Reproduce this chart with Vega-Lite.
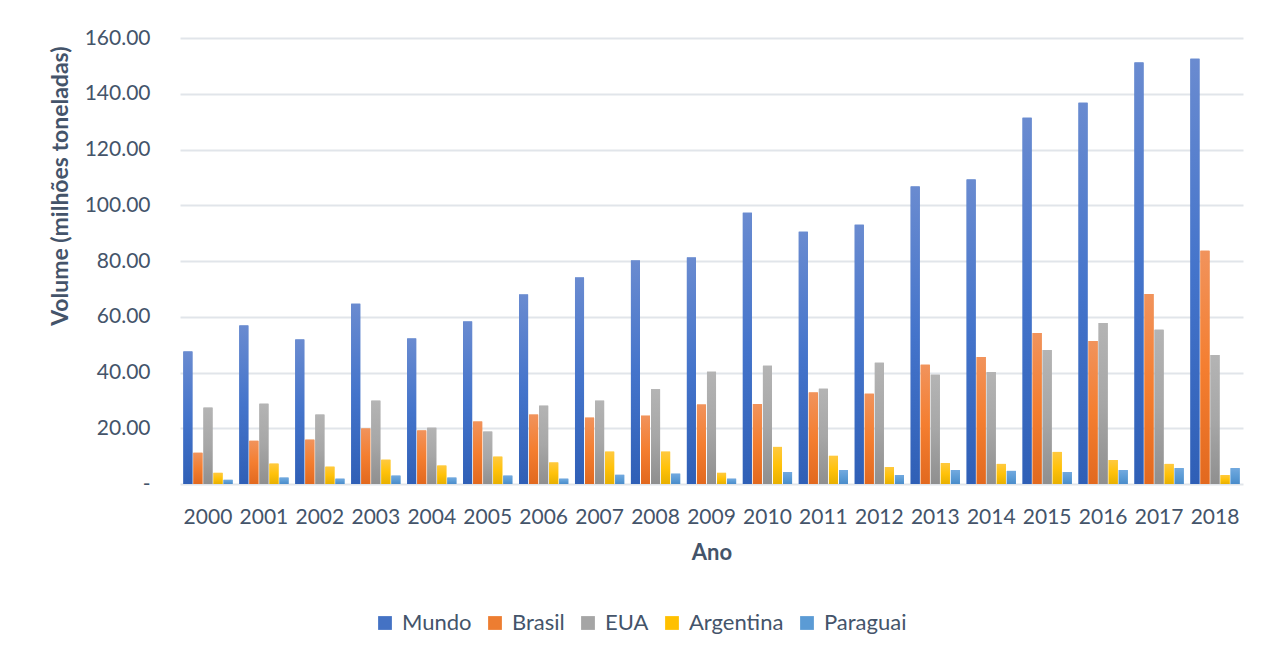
{
  "$schema": "https://vega.github.io/schema/vega-lite/v6.json",
  "autosize": "none",
  "width": 1063,
  "height": 446,
  "padding": {"left": 180, "top": 38, "right": 27, "bottom": 173},
  "background": "white",
  "config": {
    "font": "Lato",
    "view": {"stroke": null},
    "bar": {"stroke": null}
  },
  "data": {
    "values": [
      {"ano": "2000", "serie": "Mundo", "valor": 47.5},
      {"ano": "2001", "serie": "Mundo", "valor": 56.9},
      {"ano": "2002", "serie": "Mundo", "valor": 51.8},
      {"ano": "2003", "serie": "Mundo", "valor": 64.7},
      {"ano": "2004", "serie": "Mundo", "valor": 52.2},
      {"ano": "2005", "serie": "Mundo", "valor": 58.3},
      {"ano": "2006", "serie": "Mundo", "valor": 68.0},
      {"ano": "2007", "serie": "Mundo", "valor": 74.1},
      {"ano": "2008", "serie": "Mundo", "valor": 80.2},
      {"ano": "2009", "serie": "Mundo", "valor": 81.3},
      {"ano": "2010", "serie": "Mundo", "valor": 97.3},
      {"ano": "2011", "serie": "Mundo", "valor": 90.5},
      {"ano": "2012", "serie": "Mundo", "valor": 93.0},
      {"ano": "2013", "serie": "Mundo", "valor": 106.7},
      {"ano": "2014", "serie": "Mundo", "valor": 109.2},
      {"ano": "2015", "serie": "Mundo", "valor": 131.4},
      {"ano": "2016", "serie": "Mundo", "valor": 136.8},
      {"ano": "2017", "serie": "Mundo", "valor": 151.2},
      {"ano": "2018", "serie": "Mundo", "valor": 152.6},
      {"ano": "2000", "serie": "Brasil", "valor": 11.2},
      {"ano": "2001", "serie": "Brasil", "valor": 15.5},
      {"ano": "2002", "serie": "Brasil", "valor": 15.9},
      {"ano": "2003", "serie": "Brasil", "valor": 19.9},
      {"ano": "2004", "serie": "Brasil", "valor": 19.2},
      {"ano": "2005", "serie": "Brasil", "valor": 22.4},
      {"ano": "2006", "serie": "Brasil", "valor": 24.9},
      {"ano": "2007", "serie": "Brasil", "valor": 23.8},
      {"ano": "2008", "serie": "Brasil", "valor": 24.5},
      {"ano": "2009", "serie": "Brasil", "valor": 28.5},
      {"ano": "2010", "serie": "Brasil", "valor": 28.7},
      {"ano": "2011", "serie": "Brasil", "valor": 32.8},
      {"ano": "2012", "serie": "Brasil", "valor": 32.4},
      {"ano": "2013", "serie": "Brasil", "valor": 42.8},
      {"ano": "2014", "serie": "Brasil", "valor": 45.6},
      {"ano": "2015", "serie": "Brasil", "valor": 54.2},
      {"ano": "2016", "serie": "Brasil", "valor": 51.3},
      {"ano": "2017", "serie": "Brasil", "valor": 68.2},
      {"ano": "2018", "serie": "Brasil", "valor": 83.7},
      {"ano": "2000", "serie": "EUA", "valor": 27.4},
      {"ano": "2001", "serie": "EUA", "valor": 28.8},
      {"ano": "2002", "serie": "EUA", "valor": 24.9},
      {"ano": "2003", "serie": "EUA", "valor": 29.9},
      {"ano": "2004", "serie": "EUA", "valor": 20.2},
      {"ano": "2005", "serie": "EUA", "valor": 18.8},
      {"ano": "2006", "serie": "EUA", "valor": 28.1},
      {"ano": "2007", "serie": "EUA", "valor": 29.9},
      {"ano": "2008", "serie": "EUA", "valor": 34.0},
      {"ano": "2009", "serie": "EUA", "valor": 40.3},
      {"ano": "2010", "serie": "EUA", "valor": 42.4},
      {"ano": "2011", "serie": "EUA", "valor": 34.2},
      {"ano": "2012", "serie": "EUA", "valor": 43.5},
      {"ano": "2013", "serie": "EUA", "valor": 39.2},
      {"ano": "2014", "serie": "EUA", "valor": 40.2},
      {"ano": "2015", "serie": "EUA", "valor": 48.1},
      {"ano": "2016", "serie": "EUA", "valor": 57.8},
      {"ano": "2017", "serie": "EUA", "valor": 55.3},
      {"ano": "2018", "serie": "EUA", "valor": 46.3},
      {"ano": "2000", "serie": "Argentina", "valor": 4.0},
      {"ano": "2001", "serie": "Argentina", "valor": 7.3},
      {"ano": "2002", "serie": "Argentina", "valor": 6.2},
      {"ano": "2003", "serie": "Argentina", "valor": 8.7},
      {"ano": "2004", "serie": "Argentina", "valor": 6.6},
      {"ano": "2005", "serie": "Argentina", "valor": 9.8},
      {"ano": "2006", "serie": "Argentina", "valor": 7.7},
      {"ano": "2007", "serie": "Argentina", "valor": 11.6},
      {"ano": "2008", "serie": "Argentina", "valor": 11.6},
      {"ano": "2009", "serie": "Argentina", "valor": 4.0},
      {"ano": "2010", "serie": "Argentina", "valor": 13.3},
      {"ano": "2011", "serie": "Argentina", "valor": 10.1},
      {"ano": "2012", "serie": "Argentina", "valor": 6.1},
      {"ano": "2013", "serie": "Argentina", "valor": 7.5},
      {"ano": "2014", "serie": "Argentina", "valor": 7.2},
      {"ano": "2015", "serie": "Argentina", "valor": 11.5},
      {"ano": "2016", "serie": "Argentina", "valor": 8.6},
      {"ano": "2017", "serie": "Argentina", "valor": 7.2},
      {"ano": "2018", "serie": "Argentina", "valor": 3.2},
      {"ano": "2000", "serie": "Paraguai", "valor": 1.5},
      {"ano": "2001", "serie": "Paraguai", "valor": 2.3},
      {"ano": "2002", "serie": "Paraguai", "valor": 1.9},
      {"ano": "2003", "serie": "Paraguai", "valor": 3.0},
      {"ano": "2004", "serie": "Paraguai", "valor": 2.3},
      {"ano": "2005", "serie": "Paraguai", "valor": 3.0},
      {"ano": "2006", "serie": "Paraguai", "valor": 1.9},
      {"ano": "2007", "serie": "Paraguai", "valor": 3.3},
      {"ano": "2008", "serie": "Paraguai", "valor": 3.7},
      {"ano": "2009", "serie": "Paraguai", "valor": 1.9},
      {"ano": "2010", "serie": "Paraguai", "valor": 4.3},
      {"ano": "2011", "serie": "Paraguai", "valor": 5.0},
      {"ano": "2012", "serie": "Paraguai", "valor": 3.2},
      {"ano": "2013", "serie": "Paraguai", "valor": 5.0},
      {"ano": "2014", "serie": "Paraguai", "valor": 4.7},
      {"ano": "2015", "serie": "Paraguai", "valor": 4.3},
      {"ano": "2016", "serie": "Paraguai", "valor": 5.0},
      {"ano": "2017", "serie": "Paraguai", "valor": 5.7},
      {"ano": "2018", "serie": "Paraguai", "valor": 5.7}
    ]
  },
  "encoding": {
    "x": {
      "field": "ano",
      "type": "nominal",
      "scale": {"paddingInner": 0.12, "paddingOuter": 0.06},
      "axis": {
        "title": "Ano",
        "labelAngle": 0,
        "labelFont": "Lato",
        "labelFontSize": 21,
        "labelColor": "#44546a",
        "labelPadding": 22,
        "ticks": false,
        "domain": false,
        "titleFont": "Lato",
        "titleFontSize": 22,
        "titleFontWeight": "bold",
        "titleColor": "#44546a",
        "titlePadding": 15
      }
    },
    "xOffset": {
      "field": "serie",
      "type": "nominal",
      "scale": {"domain": ["Mundo", "Brasil", "EUA", "Argentina", "Paraguai"], "paddingInner": 0.1, "paddingOuter": 0}
    },
    "y": {
      "field": "valor",
      "type": "quantitative",
      "scale": {"domain": [0, 160], "nice": false},
      "axis": {
        "title": "Volume (milhões toneladas)",
        "values": [0, 20, 40, 60, 80, 100, 120, 140, 160],
        "labelExpr": "datum.value == 0 ? '-\u2007' : format(datum.value, '.2f')",
        "labelFont": "Lato",
        "labelFontSize": 21,
        "labelColor": "#44546a",
        "labelPadding": 30,
        "ticks": false,
        "domain": false,
        "grid": true,
        "gridColor": "#e1e5ea",
        "gridWidth": 2,
        "titleFont": "Lato",
        "titleFontSize": 23,
        "titleFontWeight": "bold",
        "titleColor": "#44546a",
        "titlePadding": 12,
        "titleAnchor": "end",
        "titleY": 8
      }
    }
  },
  "layer": [
    {
      "mark": {"type": "bar"},
      "encoding": {
        "color": {
          "field": "serie",
          "type": "nominal",
          "sort": ["Mundo", "Brasil", "EUA", "Argentina", "Paraguai"],
          "scale": {
            "domain": ["Mundo", "Brasil", "EUA", "Argentina", "Paraguai"],
            "range": ["#4472c4", "#ed7d31", "#a5a5a5", "#ffc000", "#5b9bd5"]
          },
          "legend": {
            "orient": "none",
            "legendX": 194,
            "legendY": 574,
            "direction": "horizontal",
            "title": null,
            "symbolType": "square",
            "symbolSize": 190,
            "symbolStrokeWidth": 0,
            "labelFont": "Lato",
            "labelFontSize": 22,
            "labelOffset": 6,
            "labelColor": "#44546a",
            "columnPadding": 12
          }
        }
      }
    },
    {
      "transform": [{"filter": "datum.serie === 'Mundo'"}],
      "mark": {"type": "bar", "color": {"gradient": "linear", "x1": 0, "y1": 0, "x2": 0, "y2": 1, "stops": [{"offset": 0, "color": "#6a8bd0"}, {"offset": 0.5, "color": "#4474cb"}, {"offset": 1, "color": "#2f5fb6"}]}}
    },
    {
      "transform": [{"filter": "datum.serie === 'Brasil'"}],
      "mark": {"type": "bar", "color": {"gradient": "linear", "x1": 0, "y1": 0, "x2": 0, "y2": 1, "stops": [{"offset": 0, "color": "#f1935c"}, {"offset": 0.5, "color": "#f47e30"}, {"offset": 1, "color": "#e2691f"}]}}
    },
    {
      "transform": [{"filter": "datum.serie === 'EUA'"}],
      "mark": {"type": "bar", "color": {"gradient": "linear", "x1": 0, "y1": 0, "x2": 0, "y2": 1, "stops": [{"offset": 0, "color": "#b4b4b4"}, {"offset": 0.5, "color": "#a7a7a7"}, {"offset": 1, "color": "#8f8f8f"}]}}
    },
    {
      "transform": [{"filter": "datum.serie === 'Argentina'"}],
      "mark": {"type": "bar", "color": {"gradient": "linear", "x1": 0, "y1": 0, "x2": 0, "y2": 1, "stops": [{"offset": 0, "color": "#ffc93f"}, {"offset": 0.5, "color": "#ffc20a"}, {"offset": 1, "color": "#e8b000"}]}}
    },
    {
      "transform": [{"filter": "datum.serie === 'Paraguai'"}],
      "mark": {"type": "bar", "color": {"gradient": "linear", "x1": 0, "y1": 0, "x2": 0, "y2": 1, "stops": [{"offset": 0, "color": "#72a9df"}, {"offset": 0.5, "color": "#5c9cd6"}, {"offset": 1, "color": "#4a8cca"}]}}
    }
  ]
}
